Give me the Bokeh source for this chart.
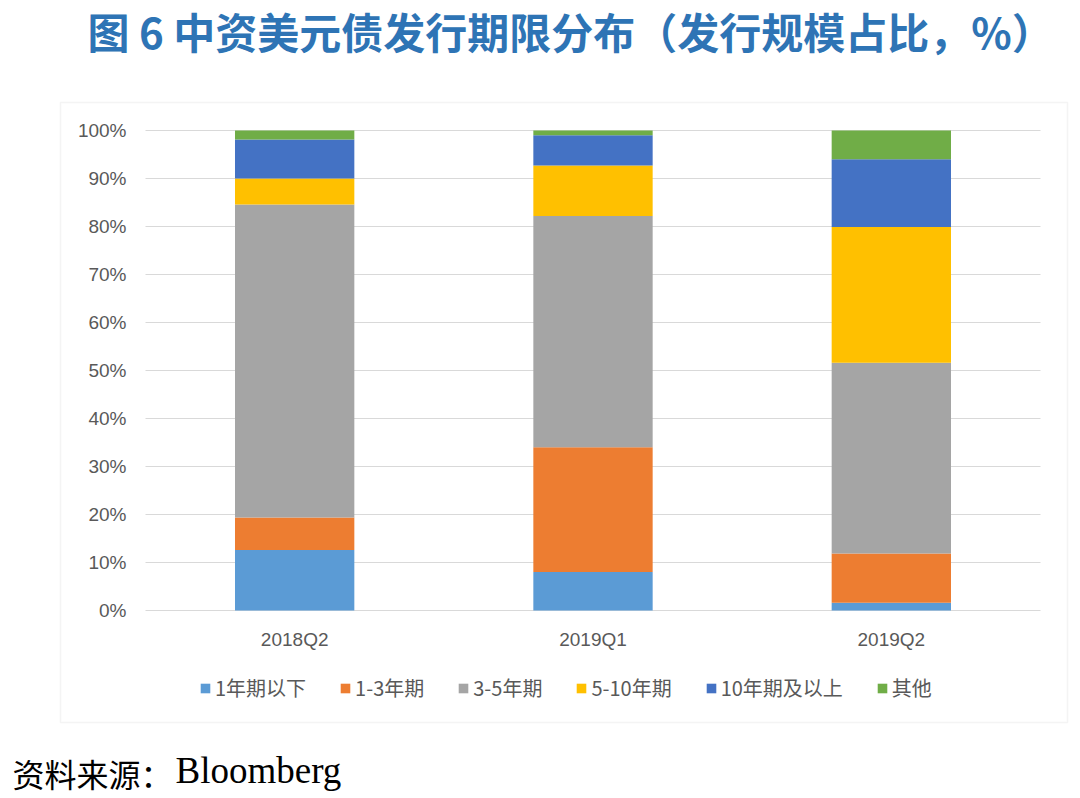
from bokeh.plotting import figure
from bokeh.models import (ColumnDataSource, Range1d, FixedTicker, PrintfTickFormatter,
                          Legend, LegendItem, Label, BoxAnnotation)
from bokeh.embed import file_html
from bokeh.resources import INLINE

# ---- data ----
categories = ["2018Q2", "2019Q1", "2019Q2"]
series_names = ["1年期以下", "1-3年期", "3-5年期", "5-10年期", "10年期及以上", "其他"]
s_lt1 = [12.6, 8.0, 1.6]
s_1_3 = [6.8, 26.0, 10.3]
s_3_5 = [65.2, 48.2, 39.7]
s_5_10 = [5.4, 10.5, 28.3]
s_10p = [8.1, 6.3, 14.1]
s_other = [1.9, 1.0, 6.0]
y_ticks = [0, 10, 20, 30, 40, 50, 60, 70, 80, 90, 100]

title_text = "图 6 中资美元债发行期限分布（发行规模占比，%）"
source_cn = "资料来源："
source_en = "Bloomberg"

colors = ["#5B9BD5", "#ED7D31", "#A5A5A5", "#FFC000", "#4472C4", "#70AD47"]
keys = ["s0", "s1", "s2", "s3", "s4", "s5"]

# ---- layout geometry (page pixels) ----
W, H = 1076, 796          # canvas = frame
PX0, PY0 = 0, 0           # observed canvas offset on the page
PLOT_L, PLOT_R = 145, 1040
PLOT_T, PLOT_B = 130, 610

x_pos = list(range(len(categories)))
x_lo, x_hi = x_pos[0] - 0.5, x_pos[-1] + 0.5
xs = (PLOT_R - PLOT_L) / (x_hi - x_lo)
ys = (PLOT_B - PLOT_T) / (y_ticks[-1] - y_ticks[0])
x_range = Range1d(x_lo - (PLOT_L - PX0) / xs, x_hi + (PX0 + W - PLOT_R) / xs)
y_range = Range1d(y_ticks[0] - (PY0 + H - PLOT_B) / ys, y_ticks[-1] + (PLOT_T - PY0) / ys)

def sx(px):  # page x -> frame screen x
    return px - PX0

def sy(py):  # page y -> frame screen y (from bottom)
    return PY0 + H - py

source = ColumnDataSource(dict(x=x_pos, s0=s_lt1, s1=s_1_3, s2=s_3_5,
                               s3=s_5_10, s4=s_10p, s5=s_other))
grid_src = ColumnDataSource(dict(y=y_ticks, x0=[x_lo] * len(y_ticks),
                                 x1=[x_hi] * len(y_ticks)))

p = figure(width=W, height=H, x_range=x_range, y_range=y_range,
           output_backend="svg", toolbar_location=None, min_border=0)
p.outline_line_color = None
p.background_fill_color = "white"
p.border_fill_color = "white"
p.xgrid.visible = False
p.ygrid.visible = False

# outer chart box
p.add_layout(BoxAnnotation(left=sx(60), right=sx(1067), top=sy(102), bottom=sy(722),
                           left_units="screen", right_units="screen",
                           top_units="screen", bottom_units="screen",
                           fill_color="white", fill_alpha=1.0,
                           line_color="#D9D9D9", line_width=1.5, level="underlay"))

# horizontal grid lines within the plot area
p.segment(x0="x0", x1="x1", y0="y", y1="y", source=grid_src,
          line_color="#D9D9D9", line_width=1)

renderers = p.vbar_stack(keys, x="x", width=0.4, source=source, color=colors,
                         line_color=None)

# axes drawn at fixed locations inside the frame
p.yaxis.ticker = FixedTicker(ticks=y_ticks)
p.yaxis.formatter = PrintfTickFormatter(format="%d%%")
p.yaxis.fixed_location = x_lo
p.xaxis.ticker = FixedTicker(ticks=x_pos)
p.xaxis.major_label_overrides = {i: c for i, c in zip(x_pos, categories)}
p.xaxis.fixed_location = y_ticks[0]
for ax in (p.xaxis[0], p.yaxis[0]):
    ax.axis_line_color = None
    ax.major_tick_line_color = None
    ax.minor_tick_line_color = None
    ax.major_tick_out = 0
    ax.major_tick_in = 0
    ax.minor_tick_out = 0
    ax.major_label_text_font = "Liberation Sans"
    ax.major_label_text_font_size = "19px"
    ax.major_label_text_color = "#595959"
p.yaxis.major_label_standoff = 19
p.xaxis.major_label_standoff = 18

# legend
items = [LegendItem(label=n, renderers=[r]) for n, r in zip(series_names, renderers)]
legend = Legend(items=items, orientation="horizontal", location=(sx(199), sy(702)),
                glyph_width=12, glyph_height=12, label_standoff=4, spacing=33,
                label_text_font="Noto Sans CJK SC", label_text_font_size="20px",
                label_text_color="#595959", border_line_color=None,
                background_fill_alpha=0, margin=0, padding=4)
p.add_layout(legend)

# title
p.add_layout(Label(x=sx(87), y=sy(30), x_units="screen", y_units="screen",
                   text=title_text, text_font="Noto Sans CJK SC", text_font_style="bold",
                   text_font_size="42px", text_color="#2E74B5",
                   text_baseline="middle", text_align="left"))
# source
p.add_layout(Label(x=sx(12), y=sy(772), x_units="screen", y_units="screen",
                   text=source_cn, text_font="Noto Sans CJK SC", text_font_style="normal",
                   text_font_size="32px", text_color="black",
                   text_baseline="middle", text_align="left"))
p.add_layout(Label(x=sx(175), y=sy(770), x_units="screen", y_units="screen",
                   text=source_en, text_font="Liberation Serif", text_font_style="normal",
                   text_font_size="37px", text_color="black",
                   text_baseline="middle", text_align="left"))

open("out.html", "w").write(file_html(p, INLINE))
